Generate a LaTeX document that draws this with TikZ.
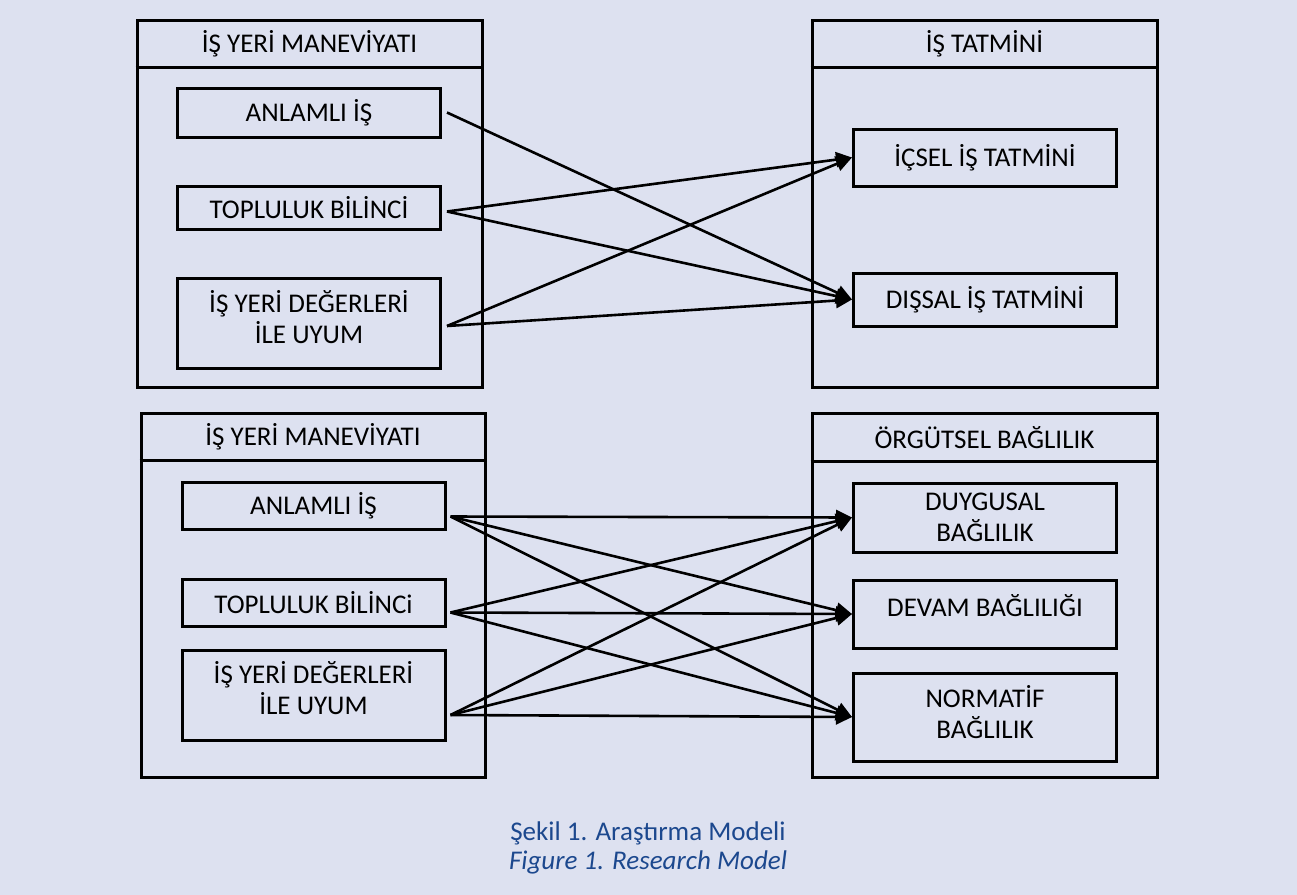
\documentclass[tikz,border=0pt]{standalone}
\usepackage{fontspec}
\setmainfont{Carlito}
\usetikzlibrary{calc, positioning, arrows.meta}
\definecolor{bgcol}{RGB}{221,225,240}
\definecolor{capcol}{RGB}{28,72,142}

\begin{document}
\begin{tikzpicture}[x=0.5pt,y=-0.5pt]
  \tikzset{outer/.style={draw,line width=1.5pt,inner sep=0,minimum width=172.5pt},
    inbox/.style={draw,line width=1.5pt,inner sep=0,minimum width=131.5pt,align=center,font=\fontsize{13.5}{15.5}\selectfont},
    head/.style={font=\fontsize{13.5}{15.5}\selectfont},
    conn/.style={line width=1.3pt,-{Triangle[length=8pt,width=7.5pt]}}}
  \fill[bgcol] (0,0) rectangle (1297,895);
  % upper model
  \node[outer,minimum height=183.5pt](lt) at (309.5,203.5) {};
  \node[outer,minimum height=183.5pt](rt) at (984.5,203.5) {};
  \draw[line width=1.5pt] (lt.west |- 0,67) -- (lt.east |- 0,67);
  \draw[line width=1.5pt] (rt.west |- 0,67) -- (rt.east |- 0,67);
  \node[head](lth) at (309.5,43.5) {İŞ YERİ MANEVİYATI};
  \node[head](rth) at (984.5,43.5) {İŞ TATMİNİ};
  \node[inbox,minimum height=24.5pt](a1) at (309,112.5) {ANLAMLI İŞ};
  \node[inbox,minimum height=21.5pt](a2) at (309,207.5) {TOPLULUK BİLİNCİ};
  \node[inbox,minimum height=45pt,text depth=6.5pt](a3) at (309,323) {İŞ YERİ DEĞERLERİ\\İLE UYUM};
  \node[inbox,minimum height=28.5pt](a4) at (985,157.5) {İÇSEL İŞ TATMİNİ};
  \node[inbox,minimum height=26.5pt](a5) at (985,299.5) {DIŞSAL İŞ TATMİNİ};
  \draw[conn] ([xshift=2.5pt]a1.east) -- (a5.west);
  \draw[conn] ([shift={(2.5pt,-2pt)}]a2.east) -- (a4.west);
  \draw[conn] ([shift={(2.5pt,-2pt)}]a2.east) -- (a5.west);
  \draw[conn] ([shift={(2.5pt,-1.5pt)}]a3.east) -- (a4.west);
  \draw[conn] ([shift={(2.5pt,-1.5pt)}]a3.east) -- (a5.west);
  % lower model
  \node[outer,minimum width=172pt,minimum height=182pt](lb) at (313,595) {};
  \node[outer,minimum height=182pt](rb) at (984.5,595) {};
  \draw[line width=1.5pt] (lb.west |- 0,460) -- (lb.east |- 0,460);
  \draw[line width=1.5pt] (rb.west |- 0,461) -- (rb.east |- 0,461);
  \node[head](lbh) at (313,437) {İŞ YERİ MANEVİYATI};
  \node[head](rbh) at (984.5,438) {ÖRGÜTSEL BAĞLILIK};
  \node[inbox,minimum height=23.5pt](bl1) at (313.5,505.5) {ANLAMLI İŞ};
  \node[inbox,minimum height=23.5pt](bl2) at (313.5,602.5) {TOPLULUK BİLİNCi};
  \node[inbox,minimum height=45pt,text depth=7.5pt](bl3) at (313.5,695) {İŞ YERİ DEĞERLERİ\\İLE UYUM};
  \node[inbox,minimum height=34.5pt](br1) at (985,517.5) {DUYGUSAL\\BAĞLILIK};
  \node[inbox,minimum height=34pt,text depth=9pt](br2) at (985,614) {DEVAM BAĞLILIĞI};
  \node[inbox,minimum height=44pt,text depth=5.5pt](br3) at (985,717) {NORMATİF\\BAĞLILIK};
  \coordinate (bo1) at ([shift={(2pt,-5.5pt)}]bl1.east);
  \coordinate (bo2) at ([shift={(2pt,-5pt)}]bl2.east);
  \coordinate (bo3) at ([shift={(2pt,-10pt)}]bl3.east);
  \foreach \s in {1,2,3}
    \foreach \t in {1,2,3}
      \draw[conn] (bo\s) -- (br\t.west);
  % caption
  \node[head,text=capcol](cap1) at (648,833) {Şekil 1. Araştırma Modeli};
  \node[head,text=capcol,font=\fontsize{13.5}{15.5}\selectfont\itshape](cap2) at (648,862) {Figure 1. Research Model};
\end{tikzpicture}
\end{document}
